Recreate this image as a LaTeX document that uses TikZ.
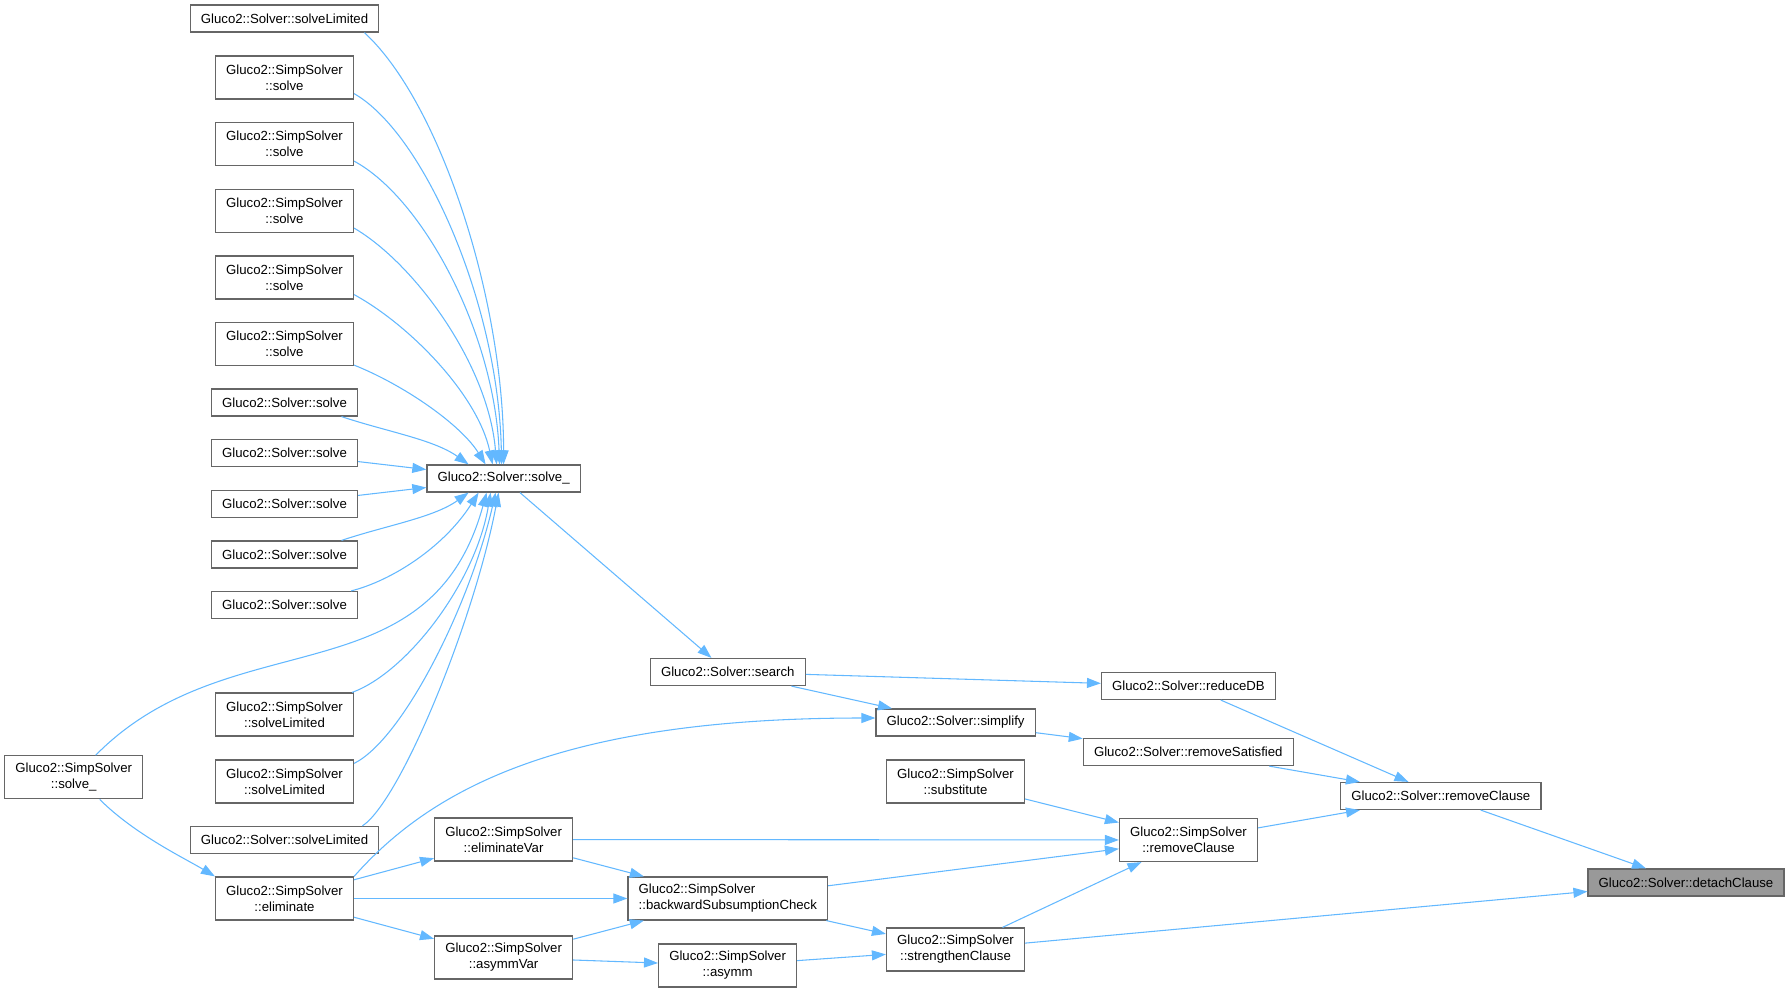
\documentclass[tikz,border=0pt]{standalone}
\usepackage{fontspec}
\setmainfont{Liberation Sans}
\usetikzlibrary{arrows.meta,calc}
\definecolor{edgeblue}{HTML}{63B8FF}
\definecolor{boxgray}{HTML}{666666}
\definecolor{hlgray}{HTML}{999999}
\tikzset{
  fn/.style={rectangle, draw=boxgray, line width=0.9pt, fill=white, inner xsep=8pt, inner ysep=2pt,
             minimum height=20.25pt, align=center, font=\fontsize{9.9}{12}\selectfont},
  fntwo/.style={fn, minimum height=32.25pt},
  fnleft/.style={fntwo, align=left},
  fnmain/.style={fn, fill=hlgray},
  call/.style={-{Triangle[length=10.5pt,width=7.5pt]}, line width=0.8pt, edgeblue},
}

\begin{document}
\begin{tikzpicture}[x=0.75pt, y=-0.75pt]
\useasboundingbox (0,0) rectangle (1789,992);

\node[fn] (slimA) at (284.5,18.5) {Gluco2::Solver::solveLimited};
\node[fntwo] (ssolveA) at (284.5,77.5) {Gluco2::SimpSolver\\::solve};
\node[fntwo] (ssolveB) at (284.5,144) {Gluco2::SimpSolver\\::solve};
\node[fntwo] (ssolveC) at (284.5,211) {Gluco2::SimpSolver\\::solve};
\node[fntwo] (ssolveD) at (284.5,277.5) {Gluco2::SimpSolver\\::solve};
\node[fntwo] (ssolveE) at (284.5,344) {Gluco2::SimpSolver\\::solve};
\node[fn] (solveA) at (284.5,402.5) {Gluco2::Solver::solve};
\node[fn] (solveB) at (284.5,453) {Gluco2::Solver::solve};
\node[fn] (solveC) at (284.5,504) {Gluco2::Solver::solve};
\node[fn] (solveD) at (284.5,554.5) {Gluco2::Solver::solve};
\node[fn] (solveE) at (284.5,605) {Gluco2::Solver::solve};
\node[fntwo] (sslimA) at (284.5,714.5) {Gluco2::SimpSolver\\::solveLimited};
\node[fntwo] (sslimB) at (284.5,781.5) {Gluco2::SimpSolver\\::solveLimited};
\node[fn] (slimB) at (284.5,840) {Gluco2::Solver::solveLimited};
\node[fntwo] (elim) at (284.5,898.5) {Gluco2::SimpSolver\\::eliminate};
\node[fntwo] (ssolveu) at (73.7,777.3) {Gluco2::SimpSolver\\::solve\_};

\node[fn] (solveu) at (503.6,478.5) {Gluco2::Solver::solve\_};
\node[fntwo] (elimvar) at (503.6,839.5) {Gluco2::SimpSolver\\::eliminateVar};
\node[fntwo] (asymmvar) at (503.6,957.5) {Gluco2::SimpSolver\\::asymmVar};

\node[fn] (search) at (727.8,672) {Gluco2::Solver::search};
\node[fnleft] (bsc) at (727.8,898.5) {Gluco2::SimpSolver\\::backwardSubsumptionCheck};
\node[fntwo] (asymm) at (727.6,965.5) {Gluco2::SimpSolver\\::asymm};

\node[fn] (simplify) at (955.6,722.5) {Gluco2::Solver::simplify};
\node[fntwo] (subst) at (955.5,781.5) {Gluco2::SimpSolver\\::substitute};
\node[fntwo] (strengthen) at (955.5,949.5) {Gluco2::SimpSolver\\::strengthenClause};

\node[fn] (reducedb) at (1188.5,686) {Gluco2::Solver::reduceDB};
\node[fn] (remsat) at (1188.3,752) {Gluco2::Solver::removeSatisfied};
\node[fntwo] (ssremove) at (1188.5,840) {Gluco2::SimpSolver\\::removeClause};
\node[fn] (sremove) at (1440.8,796) {Gluco2::Solver::removeClause};
\node[fnmain] (detach) at (1686,882.5) {Gluco2::Solver::detachClause};

\draw[call] ($(slimA.south east)+(-15,0)$) .. controls +(76,70) and +(0,-165) .. (solveu.north);
\draw[call] ($(ssolveA.south east)+(0,-6)$) .. controls +(70,40) and +(-3,-160) .. ($(solveu.north)+(-2,0)$);
\draw[call] ($(ssolveB.south east)+(0,-5)$) .. controls +(70,38) and +(-5,-130) .. ($(solveu.north)+(-4,0)$);
\draw[call] ($(ssolveC.south east)+(0,-5)$) .. controls +(60,35) and +(-8,-100) .. ($(solveu.north)+(-7,0)$);
\draw[call] ($(ssolveD.south east)+(0,-5)$) .. controls +(55,30) and +(-15,-70) .. ($(solveu.north)+(-11,0)$);
\draw[call] ($(ssolveE.south east)+(0,-1)$) .. controls +(50,20) and +(-25,-40) .. ($(solveu.north)+(-18,0)$);
\draw[call] ($(solveA.south)+(57,0)$) .. controls +(45,15) and +(-35,-25) .. ($(solveu.north)+(-35,0)$);
\foreach \a in {solveB, solveC}
  \draw[call] (\a) -- (solveu);
\draw[call] ($(solveD.north)+(57,0)$) .. controls +(45,-15) and +(-35,25) .. ($(solveu.south)+(-35,0)$);
\draw[call] ($(solveE.north east)+(-7,0)$) .. controls +(40,-10) and +(-35,55) .. ($(solveu.south)+(-25,0)$);
\draw[call] ($(ssolveu.north)+(22,0)$) .. controls +(134,-136) and +(-57,208) .. ($(solveu.south)+(-17,0)$);
\draw[call] ($(sslimA.north east)+(-2,0)$) .. controls +(55,-20) and +(-15,90) .. ($(solveu.south)+(-13,0)$);
\draw[call] ($(sslimB.north east)+(0,4)$) .. controls +(50,-25) and +(-25,110) .. ($(solveu.south)+(-8,0)$);
\draw[call] ($(slimB.north east)+(-17,0)$) .. controls +(38,-25) and +(-25,130) .. ($(solveu.south)+(-5,0)$);
\draw[call] ($(ssolveu.south)+(26,0)$) .. controls +(35,35) and +(-30,-18) .. (elim.north west);
\draw[call] (elim.north east) .. controls +(77,-87) and +(-315,0) .. ($(simplify.west)+(0,-4.5)$);

\foreach \a/\b in {elim/elimvar, elim/bsc, elim/asymmvar, elimvar/ssremove, elimvar/bsc,
                   asymmvar/bsc, asymmvar/asymm, solveu/search, search/reducedb, search/simplify,
                   simplify/remsat, subst/ssremove, bsc/ssremove, bsc/strengthen, asymm/strengthen,
                   strengthen/ssremove, strengthen/detach, reducedb/sremove, remsat/sremove,
                   ssremove/sremove, sremove/detach}
  \draw[call] (\a) -- (\b);
\end{tikzpicture}
\end{document}
